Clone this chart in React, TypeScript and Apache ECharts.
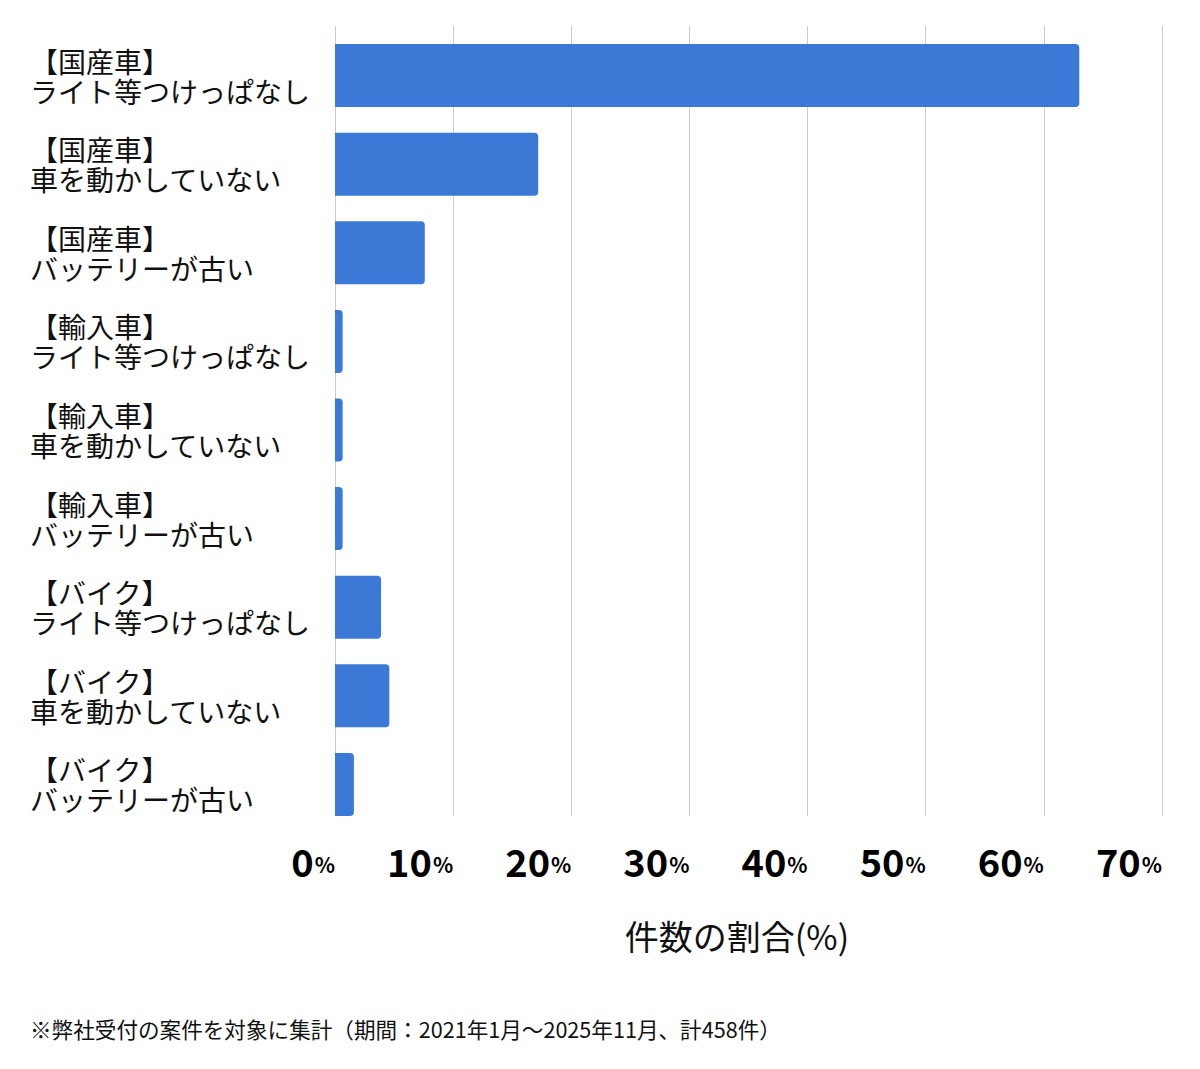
import React, { useEffect, useRef } from "react";
import * as echarts from "echarts";

const categories = [
  "【国産車】\nライト等つけっぱなし",
  "【国産車】\n車を動かしていない",
  "【国産車】\nバッテリーが古い",
  "【輸入車】\nライト等つけっぱなし",
  "【輸入車】\n車を動かしていない",
  "【輸入車】\nバッテリーが古い",
  "【バイク】\nライト等つけっぱなし",
  "【バイク】\n車を動かしていない",
  "【バイク】\nバッテリーが古い",
];
const shares = [63.0, 17.2, 7.6, 0.65, 0.65, 0.65, 3.9, 4.6, 1.6];
const axisTitle = "件数の割合(%)";
const footnote = "※弊社受付の案件を対象に集計（期間：2021年1月～2025年11月、計458件）";

const FONT = "'Noto Sans CJK JP', 'Noto Sans', sans-serif";

export default function App() {
  const ref = useRef<HTMLDivElement>(null);
  useEffect(() => {
    if (!ref.current) return;
    const chart = echarts.init(ref.current, null, { renderer: "svg" });
    chart.setOption({
      animation: false,
      backgroundColor: "#ffffff",
      textStyle: { fontFamily: FONT },
      grid: [
        { left: 335, right: 38, top: 26, height: 790 },
        { left: 335, right: 38, top: 31.2, height: 797.6 },
      ],
      xAxis: [
        {
          gridIndex: 0,
          type: "value",
          min: 0,
          max: 70,
          interval: 10,
          axisLine: { show: false },
          axisTick: { show: false },
          splitLine: { show: true, lineStyle: { color: "#cccccc", width: 1 } },
          axisLabel: {
            align: "right",
            margin: 25,
            formatter: (v: number) => `{n|${v}}{p|%}`,
            rich: {
              n: { fontSize: 38, fontWeight: "bold", color: "#000", fontFamily: FONT },
              p: { fontSize: 21, fontWeight: "bold", color: "#000", fontFamily: FONT, padding: [8, 0, 0, 1] },
            },
          },
        },
        {
          gridIndex: 1,
          type: "value",
          min: 0,
          max: 70,
          show: false,
        },
      ],
      yAxis: [
        {
          gridIndex: 0,
          type: "value",
          show: false,
        },
        {
          gridIndex: 1,
          type: "category",
          inverse: true,
          data: categories,
          axisLine: { show: false },
          axisTick: { show: false },
          splitLine: { show: false },
          axisLabel: {
            align: "left",
            margin: 305,
            fontSize: 28,
            lineHeight: 30,
            color: "#111",
            fontFamily: FONT,
          },
        },
      ],
      series: [
        {
          type: "bar",
          xAxisIndex: 1,
          yAxisIndex: 1,
          data: shares,
          barWidth: 63,
          itemStyle: { color: "#3c78d6", borderRadius: [0, 4, 4, 0] },
        },
      ],
      graphic: [
        {
          type: "text",
          x: 737,
          y: 935,
          style: {
            text: axisTitle,
            fontSize: 34,
            fill: "#111",
            fontFamily: FONT,
            align: "center",
            verticalAlign: "middle",
          },
        },
        {
          type: "text",
          x: 30,
          y: 1028,
          style: {
            text: footnote,
            fontSize: 21.6,
            fill: "#111",
            fontFamily: FONT,
            align: "left",
            verticalAlign: "middle",
          },
        },
      ],
    });
    return () => chart.dispose();
  }, []);
  return (
    <div
      ref={ref}
      style={{ position: "absolute", left: 0, top: 0, width: 1200, height: 1069 }}
    />
  );
}
